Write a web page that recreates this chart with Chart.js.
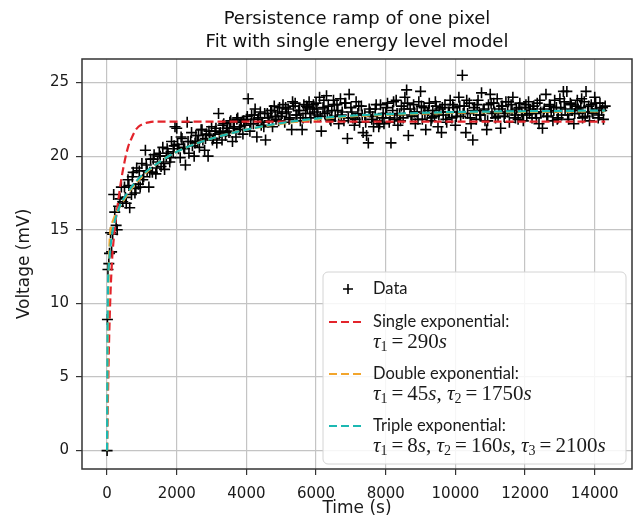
<!DOCTYPE html>
<html>
<head>
<meta charset="utf-8">
<script src="https://cdn.jsdelivr.net/npm/chart.js@4/dist/chart.umd.min.js"></script>
<style>
  html, body { margin: 0; padding: 0; background: #fff; }
  canvas { display: block; }
</style>
</head>
<body>
<canvas id="myChart" width="633" height="516"></canvas>
<script>
// measured points (time in s, voltage in mV)
const dataTime = [
  0, 10, 25, 50, 70, 100, 130, 160, 190, 220, 260, 290, 330, 370, 410, 450,
  500, 550, 600, 650, 700, 750, 800, 850, 900, 950,
  1000, 1050, 1100, 1150, 1200, 1250, 1300, 1350, 1400, 1450,
  1500, 1550, 1600, 1650, 1700, 1750, 1800, 1850, 1900, 1950,
  2000, 2050, 2100, 2150, 2200, 2250, 2300, 2350, 2400, 2450,
  2500, 2550, 2600, 2650, 2700, 2750, 2800, 2850, 2900, 2950,
  3000, 3050, 3100, 3150, 3200, 3250, 3300, 3350, 3400, 3450,
  3500, 3550, 3600, 3650, 3700, 3750, 3800, 3850, 3900, 3950,
  4000, 4050, 4100, 4150, 4200, 4250, 4300, 4350, 4400, 4450,
  4500, 4550, 4600, 4650, 4700, 4750, 4800, 4850, 4900, 4950,
  5000, 5050, 5100, 5150, 5200, 5250, 5300, 5350, 5400, 5450,
  5500, 5550, 5600, 5650, 5700, 5750, 5800, 5850, 5900, 5950,
  6000, 6050, 6100, 6150, 6200, 6250, 6300, 6350, 6400, 6450,
  6500, 6550, 6600, 6650, 6700, 6750, 6800, 6850, 6900, 6950,
  7000, 7050, 7100, 7150, 7200, 7250, 7300, 7350, 7400, 7450,
  7500, 7550, 7600, 7650, 7700, 7750, 7800, 7850, 7900, 7950,
  8000, 8050, 8100, 8150, 8200, 8250, 8300, 8350, 8400, 8450,
  8500, 8550, 8600, 8650, 8700, 8750, 8800, 8850, 8900, 8950,
  9000, 9050, 9100, 9150, 9200, 9250, 9300, 9350, 9400, 9450,
  9500, 9550, 9600, 9650, 9700, 9750, 9800, 9850, 9900, 9950,
  10000, 10050, 10100, 10150, 10200, 10250, 10300, 10350, 10400, 10450,
  10500, 10550, 10600, 10650, 10700, 10750, 10800, 10850, 10900, 10950,
  11000, 11050, 11100, 11150, 11200, 11250, 11300, 11350, 11400, 11450,
  11500, 11550, 11600, 11650, 11700, 11750, 11800, 11850, 11900, 11950,
  12000, 12050, 12100, 12150, 12200, 12250, 12300, 12350, 12400, 12450,
  12500, 12550, 12600, 12650, 12700, 12750, 12800, 12850, 12900, 12950,
  13000, 13050, 13100, 13150, 13200, 13250, 13300, 13350, 13400, 13450,
  13500, 13550, 13600, 13650, 13700, 13750, 13800, 13850, 13900, 13950,
  14000, 14050, 14100, 14150, 14200, 14250, 14300
];
const dataVolt = [
  0, 8.9, 12.3, 12.7, 13.4, 14.8, 13.5, 14.7, 17.4, 16.2, 15.3, 15.0, 16.6, 17.1, 17.9, 16.9,
  17.9, 16.8, 18.4, 16.5, 17.4, 18.9, 17.5, 19.2, 18.1, 17.9,
  19.5, 18.6, 20.4, 19.0, 17.9, 19.8, 18.9, 20.1, 18.8, 19.6,
  20.2, 19.3, 20.6, 19.1, 20.0, 20.2, 19.6, 21.0, 20.3, 22.0,
  21.9, 20.5, 19.9, 21.2, 20.6, 19.4, 22.3, 20.2, 21.0, 20.7,
  20.0, 21.4, 21.0, 20.6, 21.8, 21.1, 20.4, 21.5, 20.0, 21.4,
  22.0, 21.2, 21.7, 20.9, 22.9, 21.6, 21.1, 22.2, 21.4, 21.9,
  21.6, 22.4, 21.0, 22.0, 21.3, 22.6, 21.8, 22.3, 21.5, 22.1,
  22.5, 23.9, 21.7, 22.8, 22.2, 23.2, 21.3, 22.6, 23.0, 22.3,
  22.0, 21.1, 22.9, 22.4, 23.1, 22.0, 23.4, 22.5, 23.0, 23.3,
  22.7, 23.5, 22.3, 23.0, 23.2, 22.6, 21.8, 23.4, 23.6, 22.8,
  23.1, 22.4, 21.8, 23.5, 22.9, 23.3, 23.7, 22.6, 23.2, 23.0,
  23.6, 22.8, 24.0, 21.7, 23.3, 22.9, 24.1, 23.4, 22.5, 23.1,
  23.8, 22.7, 23.5, 22.2, 23.9, 23.0, 22.4, 23.6, 21.2, 24.2,
  23.3, 22.6, 22.1, 23.7, 22.9, 22.3, 23.4, 21.6, 22.8, 21.4,
  20.9, 23.0, 22.5, 22.0, 23.2, 22.4, 22.0, 23.5, 22.6, 22.2,
  22.9, 23.6, 22.3, 20.9, 23.1, 22.5, 23.8, 22.1, 22.8, 23.4,
  22.6, 24.0, 24.5, 21.4, 23.2, 22.7, 23.5, 22.2, 23.0, 23.7,
  24.4, 22.5, 23.3, 21.8, 22.9, 23.6, 22.4, 23.1, 22.7, 23.4,
  22.0, 23.2, 21.6, 22.8, 23.5, 22.3, 23.0, 23.8, 22.6, 23.3,
  22.1, 23.0, 24.0, 22.7, 25.5, 23.4, 21.6, 22.9, 23.6, 22.2,
  21.1, 23.3, 22.5, 23.8, 22.8, 24.3, 23.1, 22.4, 21.8, 23.5,
  24.2, 22.9, 23.6, 22.6, 23.9, 23.2, 21.9, 23.4, 22.7, 23.7,
  23.0, 22.3, 23.5, 24.0, 22.8, 23.2, 22.5, 23.6, 23.0, 22.4,
  23.3, 22.8, 23.7, 23.1, 22.6, 23.4, 22.9, 23.6, 22.2, 23.0,
  21.9, 23.2, 24.2, 22.7, 23.5, 23.0, 22.4, 23.8, 23.3, 22.6,
  23.9, 22.8, 24.4, 23.2, 24.4, 22.5, 23.6, 23.1, 22.2, 23.4,
  23.8, 22.9, 23.3, 22.6, 23.7, 24.4, 23.0, 22.4, 23.5, 22.9,
  24.0, 23.2, 22.6, 23.6, 23.1, 22.5, 23.4
];

// more points read from the crowded parts of the cloud
const denseTime = [
  525, 625, 725, 825, 925, 1025, 1125, 1225, 1325, 1425, 1525, 1625, 1725, 1825, 1925,
  2025, 2125, 2225, 2325, 2425, 2525, 2625, 2725, 2825, 2925,
  3025, 3125, 3225, 3325, 3425, 3525, 3625, 3725, 3825, 3925,
  4025, 4125, 4225, 4325, 4425, 4525, 4625, 4725, 4825, 4925,
  5025, 5125, 5225, 5325, 5425, 5525, 5625, 5725, 5825, 5925,
  6025, 6125, 6225, 6325, 6425, 6525, 6625, 6725, 6825, 6925,
  7025, 7125, 7225, 7325, 7425, 7525, 7625, 7725, 7825, 7925,
  8025, 8125, 8225, 8325, 8425, 8525, 8625, 8725, 8825, 8925,
  9025, 9125, 9225, 9325, 9425, 9525, 9625, 9725, 9825, 9925,
  10025, 10125, 10225, 10325, 10425, 10525, 10625, 10725, 10825, 10925,
  11025, 11125, 11225, 11325, 11425, 11525, 11625, 11725, 11825, 11925,
  12025, 12125, 12225, 12325, 12425, 12525, 12625, 12725, 12825, 12925,
  13025, 13125, 13225, 13325, 13425, 13525, 13625, 13725, 13825, 13925,
  14025, 14125, 14225
];
const denseVolt = [
  17.2, 18.0, 18.6, 17.8, 19.0, 18.4, 19.4, 18.9, 19.8, 19.2, 20.0, 19.5, 20.5, 19.9, 20.7,
  20.8, 21.3, 20.5, 21.0, 21.6, 20.9, 21.4, 21.8, 21.2, 21.7,
  21.1, 21.9, 21.5, 22.1, 21.7, 22.3, 21.9, 22.5, 22.0, 22.4,
  22.7, 22.2, 22.8, 22.5, 22.1, 22.9, 22.6, 23.1, 22.7, 22.4,
  22.9, 23.3, 22.5, 23.7, 22.8, 23.1, 22.6, 23.4, 22.9, 23.5,
  23.2, 22.7, 23.8, 23.0, 22.4, 23.5, 23.1, 22.8, 23.6, 22.6,
  23.0, 22.5, 23.4, 22.8, 22.3, 23.2, 22.7, 23.5, 22.2, 22.9,
  23.3, 22.6, 23.7, 22.9, 22.4, 23.2, 23.6, 22.8, 23.0, 22.5,
  23.4, 22.9, 23.1, 22.6, 23.7, 22.8, 23.3, 22.5, 23.0, 23.5,
  22.7, 23.4, 22.9, 23.8, 22.6, 23.1, 23.5, 22.8, 23.2, 22.4,
  23.6, 23.0, 22.7, 23.4, 22.9, 23.7, 23.1, 22.6, 23.3, 22.8,
  23.5, 22.9, 23.2, 22.6, 23.8, 23.0, 22.7, 23.4, 23.1, 22.5,
  23.3, 23.7, 22.8, 23.5, 22.9, 23.2, 23.9, 22.7, 23.4, 23.0,
  23.6, 22.8, 23.3
];

// fitted curves
const singleTime = [0, 25, 50, 75, 100, 150, 200, 250, 300, 400, 500, 600, 700, 800, 900, 1000, 1200, 1500, 2000, 3000, 14300];
const singleVolt = [0, 3.6, 6.7, 9.0, 10.8, 13.2, 14.6, 15.7, 16.6, 18.3, 19.6, 20.6, 21.2, 21.7, 22.0, 22.15, 22.3, 22.35, 22.35, 22.35, 22.35];

const doubleTime = [0, 10, 20, 30, 50, 75, 100, 150, 200, 300, 400, 500, 700, 1000, 1500, 2000, 2500, 3000, 4000, 5000, 6000, 7000, 8000, 10000, 12000, 14300];
const doubleVolt = [0, 3.8, 7.0, 9.5, 12.6, 14.3, 15.0, 15.5, 15.8, 16.3, 16.7, 17.1, 17.8, 18.6, 19.6, 20.3, 20.8, 21.2, 21.8, 22.2, 22.5, 22.7, 22.8, 22.95, 23.0, 23.05];

const tripleTime = [0, 5, 10, 15, 25, 40, 60, 100, 150, 200, 300, 400, 500, 700, 1000, 1500, 2000, 2500, 3000, 4000, 5000, 6000, 7000, 8000, 10000, 12000, 14300];
const tripleVolt = [0, 4.0, 7.0, 9.0, 11.0, 12.2, 12.9, 13.9, 14.8, 15.4, 16.2, 16.8, 17.2, 17.9, 18.7, 19.6, 20.3, 20.8, 21.2, 21.8, 22.25, 22.55, 22.75, 22.85, 23.0, 23.05, 23.1];

const seriesNames = ['Data', 'Single exponential:', 'Double exponential:', 'Triple exponential:'];
const fitTaus = [[290], [45, 1750], [8, 160, 2100]];

const xTicks = [0, 2000, 4000, 6000, 8000, 10000, 12000, 14000];
const yTicks = [0, 5, 10, 15, 20, 25];

const toXY = (xs, ys) => xs.map((x, i) => ({ x: x, y: ys[i] }));

const fitColors = ['#e3242b', '#f2a52c', '#1cb8b2'];

function fitDataset(i, xs, ys) {
  return {
    type: 'scatter',
    label: seriesNames[i + 1],
    data: toXY(xs, ys),
    showLine: true,
    borderColor: fitColors[i],
    backgroundColor: fitColors[i],
    borderWidth: 2.2,
    borderDash: [8, 4],
    pointRadius: 0,
    cubicInterpolationMode: 'monotone',
    order: 3 - i,
    taus: fitTaus[i]
  };
}

// legend drawn inside the axes, matplotlib style
const legendPlugin = {
  id: 'boxLegend',
  afterDatasetsDraw(chart) {
    const ctx = chart.ctx;
    const area = chart.chartArea;
    const w = 303, h = 192;
    const bx = area.right - 6 - w, by = area.bottom - 5 - h;
    ctx.save();
    ctx.beginPath();
    ctx.roundRect(bx, by, w, h, 5);
    ctx.fillStyle = 'rgba(255,255,255,0.85)';
    ctx.fill();
    ctx.strokeStyle = '#d4d4d4';
    ctx.lineWidth = 1;
    ctx.stroke();

    const hx0 = bx + 6, hx1 = bx + 38, tx = bx + 50;
    ctx.textBaseline = 'middle';
    ctx.fillStyle = '#1a1a1a';

    // data entry
    let y = by + 17;
    ctx.strokeStyle = '#000';
    ctx.lineWidth = 1.6;
    ctx.beginPath();
    ctx.moveTo(bx + 25 - 5, y); ctx.lineTo(bx + 25 + 5, y);
    ctx.moveTo(bx + 25, y - 5); ctx.lineTo(bx + 25, y + 5);
    ctx.stroke();
    ctx.font = '16.5px Lato';
    ctx.fillText(seriesNames[0], tx, y);

    const fits = chart.data.datasets.filter(d => d.taus);
    fits.forEach((ds, i) => {
      y = by + 50 + i * 52;
      ctx.strokeStyle = ds.borderColor;
      ctx.lineWidth = ds.borderWidth;
      ctx.setLineDash(ds.borderDash);
      ctx.beginPath();
      ctx.moveTo(hx0, y); ctx.lineTo(hx1, y);
      ctx.stroke();
      ctx.setLineDash([]);
      ctx.fillStyle = '#1a1a1a';
      ctx.font = '16.5px Lato';
      ctx.fillText(ds.label, tx, y);
      drawTaus(ctx, tx, y + 20, ds.taus);
    });
    ctx.restore();
  }
};

function drawTaus(ctx, x, y, taus) {
  const fam = '"Liberation Serif"';
  const it = 'italic 21px ' + fam, up = '21px ' + fam, sub = '14px ' + fam;
  let cx = x;
  const put = (t, font, dy, gap) => {
    ctx.font = font;
    ctx.fillText(t, cx, y + (dy || 0));
    cx += ctx.measureText(t).width + (gap || 0);
  };
  taus.forEach((tau, i) => {
    if (i) put(', ', up);
    put('\u03c4', it);
    put(String(i + 1), sub, 5, 4);
    put('=', up, 0, 4);
    put(String(tau), up);
    put('s', it);
  });
}

const framePlugin = {
  id: 'frame',
  beforeDraw(chart) {
    const ctx = chart.ctx;
    ctx.save();
    ctx.fillStyle = '#fff';
    ctx.fillRect(0, 0, chart.width, chart.height);
    ctx.restore();
  },
  afterDraw(chart) {
    const a = chart.chartArea;
    const ctx = chart.ctx;
    ctx.save();
    ctx.strokeStyle = '#333';
    ctx.lineWidth = 1.5;
    ctx.strokeRect(a.left, a.top, a.right - a.left, a.bottom - a.top);
    ctx.restore();
  }
};

const ctx = document.getElementById('myChart').getContext('2d');
const tickFont = { family: '"DejaVu Sans"', size: 15 };
const labelFont = { family: '"DejaVu Sans"', size: 17, lineHeight: 0.85 };

new Chart(ctx, {
  type: 'scatter',
  data: {
    datasets: [
      {
        label: seriesNames[0],
        data: toXY(dataTime, dataVolt).concat(toXY(denseTime, denseVolt)),
        pointStyle: 'cross',
        pointRadius: 5.5,
        borderColor: '#000',
        backgroundColor: '#000',
        pointBorderWidth: 1.6,
        order: 4
      },
      fitDataset(0, singleTime, singleVolt),
      fitDataset(1, doubleTime, doubleVolt),
      fitDataset(2, tripleTime, tripleVolt)
    ]
  },
  options: {
    responsive: false,
    animation: false,
    devicePixelRatio: 1,
    layout: { autoPadding: false, padding: { left: 0, right: 1, top: 0, bottom: 0 } },
    plugins: {
      legend: { display: false },
      tooltip: { enabled: false },
      title: {
        display: true,
        fullSize: false,
        text: ['Persistence ramp of one pixel', 'Fit with single energy level model'],
        color: '#111',
        font: { family: '"DejaVu Sans"', size: 18, weight: 'normal', lineHeight: '23px' },
        padding: { top: 8, bottom: 5 }
      }
    },
    scales: {
      x: {
        type: 'linear',
        min: -720,
        max: 15070,
        afterBuildTicks: s => { s.ticks = xTicks.map(v => ({ value: v })); },
        afterFit: s => { s.height = 47; },
        grid: { color: '#c4c4c4', lineWidth: 1.2, tickLength: 6, tickColor: '#333', tickWidth: 1.2 },
        border: { display: false },
        ticks: { font: tickFont, color: '#1a1a1a', padding: 10, maxRotation: 0, callback: v => String(v) },
        title: { display: true, text: 'Time (s)', font: labelFont, color: '#1a1a1a', padding: { top: 0, bottom: 0.5 } }
      },
      y: {
        type: 'linear',
        min: -1.25,
        max: 26.6,
        afterBuildTicks: s => { s.ticks = yTicks.map(v => ({ value: v })); },
        afterFit: s => { s.width = 82; },
        grid: { color: '#c4c4c4', lineWidth: 1.2, tickLength: 6, tickColor: '#333', tickWidth: 1.2 },
        border: { display: false },
        ticks: { font: tickFont, color: '#1a1a1a', padding: 7, callback: v => String(v) },
        title: { display: true, text: 'Voltage (mV)', font: labelFont, color: '#1a1a1a', padding: { top: 17, bottom: 0 } }
      }
    }
  },
  plugins: [framePlugin, legendPlugin]
});
</script>
</body>
</html>
